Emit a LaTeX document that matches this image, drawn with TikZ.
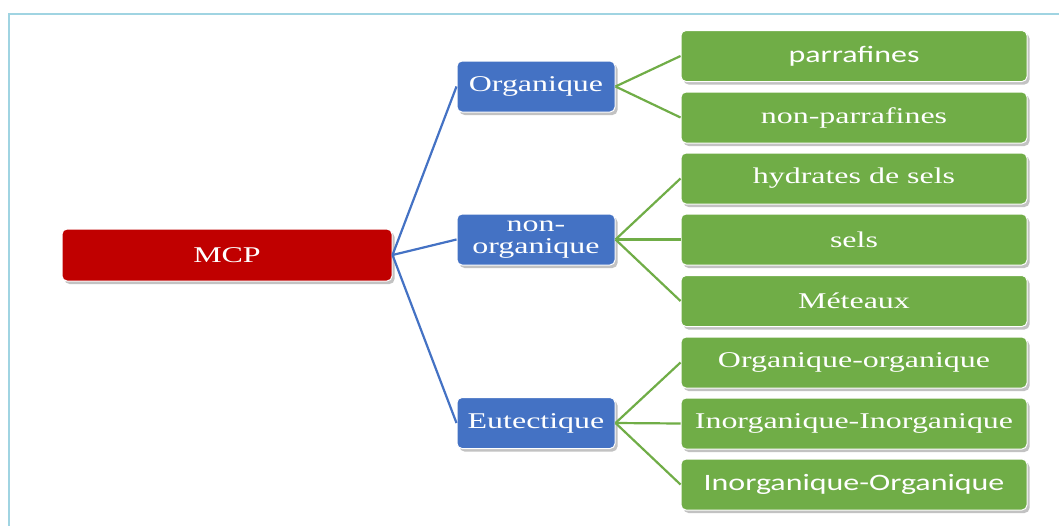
\documentclass[tikz,border=0pt]{standalone}
\usepackage{fontspec}
\setmainfont{Liberation Serif}
\newfontfamily\serifbox[FakeStretch=1.42]{Liberation Serif}
\newfontfamily\sansbox[FakeStretch=1.36]{Carlito}
\usetikzlibrary{shadows}

\definecolor{frameblue}{RGB}{160,212,226}
\definecolor{mcpred}{RGB}{192,0,0}
\definecolor{catblue}{RGB}{68,114,196}
\definecolor{leafgreen}{RGB}{112,173,71}

\tikzset{
  box/.style={rounded corners=5pt, draw=white, line width=1pt, inner sep=0pt,
    text=white, align=center,
    drop shadow={shadow xshift=2.5pt, shadow yshift=-3pt, opacity=0.4, fill=black!60}},
  rootbox/.style={box, fill=mcpred, minimum width=330pt, minimum height=52pt,
    font=\serifbox\fontsize{22.5}{22}\selectfont},
  catbox/.style={box, fill=catblue, minimum width=158pt, minimum height=51pt,
    font=\serifbox\fontsize{22.5}{21.5}\selectfont},
  leafbox/.style={box, fill=leafgreen, minimum width=346pt, minimum height=51pt,
    font=\serifbox\fontsize{22.5}{22}\selectfont},
  leafsans/.style={leafbox, font=\sansbox\fontsize{23.5}{23}\selectfont},
  trunk/.style={draw=catblue, line width=2.2pt},
  twig/.style={draw=leafgreen, line width=2.2pt}
}

\begin{document}
\begin{tikzpicture}[x=1pt, y=-1pt]
  \useasboundingbox (0,0) rectangle (1059,525);
  \begin{scope}
    \clip (0,0) rectangle (1059,525);
    \draw[frameblue, line width=2pt] (9,14) rectangle (1075,545);
  \end{scope}

  % root
  \node[rootbox] (mcp) at (227,255) {MCP};

  % categories
  \node[catbox] (org)  at (536,86.5)  {Organique};
  \node[catbox] (norg) at (536,239.5) {non-\\organique};
  \node[catbox] (eut)  at (536,423)   {Eutectique};

  % leaves
  \node[leafsans] (par)  at (854,56)    {parrafines};
  \node[leafbox]  (npar) at (854,117.5) {non-parrafines};
  \node[leafbox]  (hyd)  at (854,178.5) {hydrates de sels};
  \node[leafbox]  (sel)  at (854,239.5) {sels};
  \node[leafbox]  (met)  at (854,301)   {Méteaux};
  \node[leafbox]  (oo)   at (854,362.5) {Organique-organique};
  \node[leafbox]  (ii)   at (854,423.5) {Inorganique-Inorganique};
  \node[leafsans] (io)   at (854,484.5) {Inorganique-Organique};

  % root to categories
  \foreach \c in {org,norg,eut}
    \draw[trunk] (mcp.east) -- (\c.west);

  % categories to leaves
  \foreach \l in {par,npar}
    \draw[twig] (org.east) -- (\l.west);
  \foreach \l in {hyd,sel,met}
    \draw[twig] (norg.east) -- (\l.west);
  \foreach \l in {oo,ii,io}
    \draw[twig] (eut.east) -- (\l.west);
\end{tikzpicture}
\end{document}
